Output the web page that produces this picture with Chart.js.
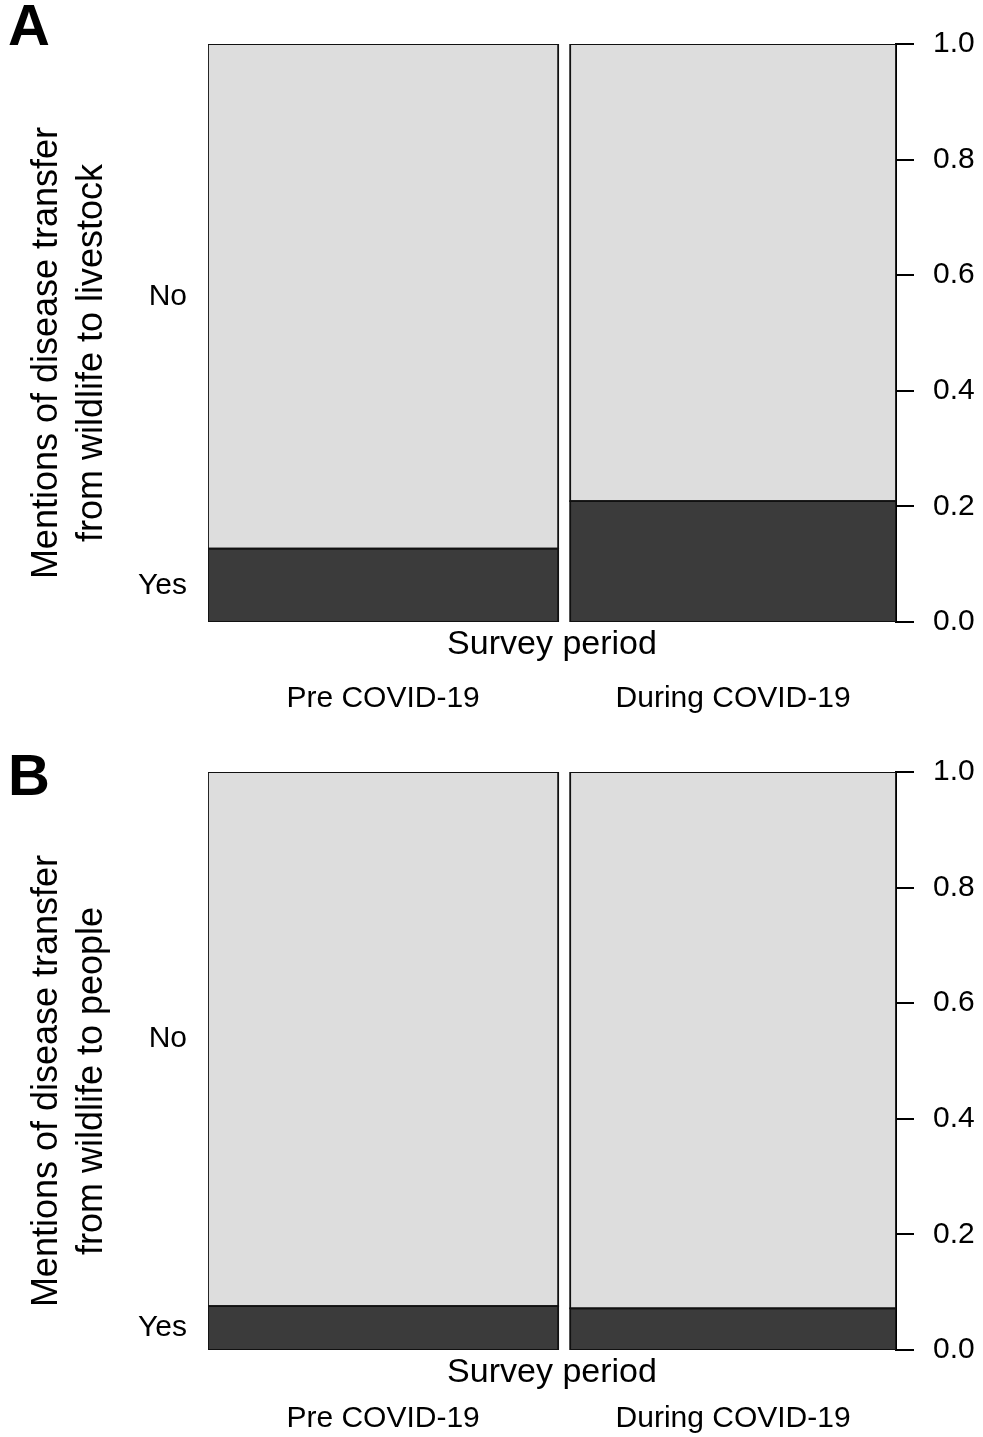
<!DOCTYPE html>
<html>
<head>
<meta charset="utf-8">
<script src="https://cdn.jsdelivr.net/npm/chart.js@4.4.1/dist/chart.umd.min.js"></script>
<style>
    body { margin: 0; background: #fff; overflow: hidden; }
    canvas { display: block; }
</style>
</head>
<body>
<canvas id="panelA" width="983" height="728"></canvas>
<canvas id="panelB" width="983" height="728"></canvas>
<script>
const periods = ['Pre COVID-19', 'During COVID-19'];
// share of surveys in each period = column widths of the spine plot
const periodShare = [0.518, 0.482];
const answers = ['Yes', 'No'];
// proportion of "Yes" answers per period
const livestockYes = [0.127, 0.209];
const peopleYes = [0.076, 0.072];
const proportionTicks = [0, 0.2, 0.4, 0.6, 0.8, 1.0];
const titleLivestock = ['Mentions of disease transfer', 'from wildlife to livestock'];
const titlePeople = ['Mentions of disease transfer', 'from wildlife to people'];

const columnGap = 0.0178;
const yesColor = '#3b3b3b';
const noColor = '#dddddd';
const fontFamily = '"Liberation Sans", Arial, Helvetica, sans-serif';

Chart.defaults.color = '#000';
Chart.defaults.font.family = fontFamily;

function columnEdges() {
    let start = 0;
    return periodShare.map(share => {
        const edges = [start, start + share];
        start += share + columnGap;
        return edges;
    });
}

function columnCentres() {
    return columnEdges().map(([x0, x1]) => (x0 + x1) / 2);
}

function buildDatasets(yes) {
    const sets = [];
    columnEdges().forEach(([x0, x1], i) => {
        const parts = [[0, yes[i], yesColor], [yes[i], 1, noColor]];
        parts.forEach(([y0, y1, color]) => {
            // filled block
            sets.push({
                data: [{x: x0, y: y1}, {x: x1, y: y1}],
                fill: {value: y0},
                backgroundColor: color,
                borderWidth: 0,
                pointRadius: 0,
                order: 1
            });
            // outline of the block
            sets.push({
                data: [{x: x0, y: y0}, {x: x1, y: y0}, {x: x1, y: y1}, {x: x0, y: y1}, {x: x0, y: y0}],
                fill: false,
                borderColor: '#111',
                borderWidth: 1.8,
                borderJoinStyle: 'miter',
                borderCapStyle: 'square',
                pointRadius: 0,
                order: 0
            });
        });
    });
    return sets;
}

function buildPanel(canvasId, yes, yTitle, letter, letterMiddle, labelPad) {
    const ctx = document.getElementById(canvasId).getContext('2d');
    const xMax = 1 + columnGap * (periodShare.length - 1);
    // trailing spaces push the rotated title a little below the plot centre, as in the figure
    const shiftedTitle = yTitle.map(line => line + '\u00a0\u00a0\u00a0\u00a0');
    const letterLine = 30;
    const letterTop = letterMiddle - letterLine / 2;

    new Chart(ctx, {
        type: 'line',
        data: { datasets: buildDatasets(yes) },
        options: {
            responsive: false,
            animation: false,
            events: [],
            layout: { padding: { left: 8, right: 0, top: 0, bottom: 0 } },
            plugins: {
                legend: { display: false },
                tooltip: { enabled: false },
                title: {
                    display: true,
                    text: letter,
                    align: 'start',
                    color: '#000',
                    font: { size: 58, weight: 'bold', lineHeight: letterLine / 58 },
                    padding: { top: letterTop, bottom: 44 - letterTop - letterLine }
                }
            },
            scales: {
                x: {
                    type: 'linear',
                    min: 0,
                    max: xMax,
                    ticks: { display: false },
                    grid: { display: false, drawTicks: false },
                    border: { display: false },
                    title: {
                        display: true,
                        text: 'Survey period',
                        font: { size: 34, lineHeight: 1.235 },
                        padding: 0
                    },
                    afterFit: s => { s.height = 44; }
                },
                xPeriod: {
                    type: 'linear',
                    axis: 'x',
                    position: 'bottom',
                    weight: 1,
                    min: 0,
                    max: xMax,
                    afterBuildTicks: s => { s.ticks = columnCentres().map(v => ({value: v})); },
                    ticks: {
                        autoSkip: false,
                        maxRotation: 0,
                        padding: labelPad,
                        font: { size: 30 },
                        callback: (v, i) => periods[i]
                    },
                    grid: { display: false, drawTicks: false },
                    border: { display: false },
                    afterFit: s => { s.height = 62; }
                },
                yAnswer: {
                    type: 'linear',
                    position: 'left',
                    min: 0,
                    max: 1,
                    afterBuildTicks: s => {
                        s.ticks = [yes[0] / 2, (1 + yes[0]) / 2].map(v => ({value: v}));
                    },
                    ticks: {
                        autoSkip: false,
                        padding: 21,
                        font: { size: 30 },
                        callback: (v, i) => answers[i]
                    },
                    grid: { display: false, drawTicks: false },
                    border: { display: false },
                    title: {
                        display: true,
                        text: shiftedTitle,
                        font: { size: 36, lineHeight: 1.25 },
                        padding: { top: 17, bottom: 0 }
                    },
                    afterFit: s => { s.width = 200; }
                },
                y: {
                    type: 'linear',
                    position: 'right',
                    min: 0,
                    max: 1,
                    afterBuildTicks: s => { s.ticks = proportionTicks.map(v => ({value: v})); },
                    ticks: {
                        autoSkip: false,
                        padding: 19,
                        font: { size: 30 },
                        callback: v => v.toFixed(1)
                    },
                    grid: {
                        drawOnChartArea: false,
                        drawTicks: true,
                        tickLength: 18,
                        color: '#000',
                        lineWidth: 2
                    },
                    border: { display: true, color: '#000', width: 2 },
                    afterFit: s => { s.width = 87; }
                }
            }
        }
    });
}

buildPanel('panelA', livestockYes, titleLivestock, 'A', 29, 14.5);
buildPanel('panelB', peopleYes, titlePeople, 'B', 50.5, 7);
</script>
</body>
</html>
